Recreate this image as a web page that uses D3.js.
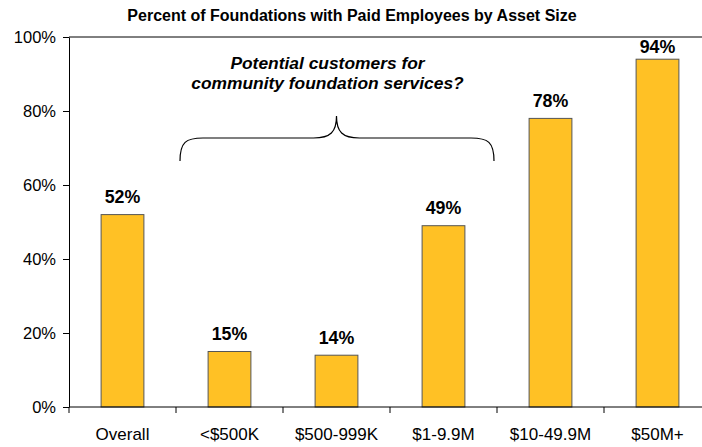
<!DOCTYPE html>
<html>
<head>
<meta charset="utf-8">
<script src="https://cdn.jsdelivr.net/npm/d3@7"></script>
<style>
  body { margin: 0; background: #fff; }
  svg { display: block; font-family: "Liberation Sans", Arial, sans-serif; }
</style>
</head>
<body>
<svg id="chart" width="702" height="447"></svg>
<script>
const categories = ["Overall", "<$500K", "$500-999K", "$1-9.9M", "$10-49.9M", "$50M+"];
const values = [52, 15, 14, 49, 78, 94];
const yTicks = [0, 20, 40, 60, 80, 100];
const titleText = "Percent of Foundations with Paid Employees by Asset Size";
const noteLines = ["Potential customers for", "community foundation services?"];

const svg = d3.select("#chart");
const margin = { left: 69, top: 37, bottom: 40 };
const plotW = 642, plotH = 370;

const x = d3.scaleBand().domain(categories).range([margin.left, margin.left + plotW]).paddingInner(0.6).paddingOuter(0.3);
const xEdges = d3.scaleLinear().domain([0, categories.length]).range([margin.left, margin.left + plotW]);
const y = d3.scaleLinear().domain([0, 100]).range([margin.top + plotH, margin.top]);

// title
svg.append("text")
  .attr("x", 352).attr("y", 21)
  .attr("text-anchor", "middle")
  .attr("font-size", 16).attr("font-weight", "bold")
  .text(titleText);

// top border of the plot area
svg.append("line")
  .attr("x1", margin.left).attr("x2", margin.left + plotW)
  .attr("y1", y(100)).attr("y2", y(100))
  .attr("stroke", "#000").attr("stroke-width", 1);

// bars
svg.selectAll("rect.bar").data(values).join("rect")
  .attr("class", "bar")
  .attr("x", (d, i) => x(categories[i]))
  .attr("width", x.bandwidth())
  .attr("y", d => y(d))
  .attr("height", d => y(0) - y(d))
  .attr("fill", "#FFC125")
  .attr("stroke", "#555")
  .attr("stroke-width", 1);

// value labels, kept inside the plot area near the top
svg.selectAll("text.val").data(values).join("text")
  .attr("class", "val")
  .attr("x", (d, i) => x(categories[i]) + x.bandwidth() / 2)
  .attr("y", d => Math.max(y(d) - 11.5, y(100) + 16))
  .attr("text-anchor", "middle")
  .attr("font-size", 17.8).attr("font-weight", "bold")
  .text(d => d + "%");

// y axis
const yAxis = svg.append("g")
  .attr("transform", `translate(${margin.left},0)`)
  .call(d3.axisLeft(y).tickValues(yTicks).tickFormat(d => d + "%").tickSize(6).tickSizeOuter(0));
yAxis.select(".domain").attr("stroke", "#000");
yAxis.selectAll("text").attr("font-size", 16.5).attr("font-family", "Liberation Sans, Arial, sans-serif").attr("fill", "#000").attr("dx", -4);

// x axis: ticks on category boundaries
const xAxis = svg.append("g").attr("transform", `translate(0,${y(0)})`);
xAxis.append("line")
  .attr("x1", margin.left).attr("x2", margin.left + plotW)
  .attr("stroke", "#000");
xAxis.selectAll("line.tick").data(d3.range(categories.length + 1)).join("line")
  .attr("class", "tick")
  .attr("x1", d => xEdges(d)).attr("x2", d => xEdges(d))
  .attr("y1", 0).attr("y2", 6)
  .attr("stroke", "#000");
xAxis.selectAll("text").data(categories).join("text")
  .attr("x", d => x(d) + x.bandwidth() / 2)
  .attr("y", 33)
  .attr("text-anchor", "middle")
  .attr("font-size", 17)
  .text(d => d);

// curly brace spanning the three middle groups
const bx0 = xEdges(1) + 4, bx1 = xEdges(4) - 3, bm = xEdges(2.5);

// annotation above the brace
svg.selectAll("text.note").data(noteLines).join("text")
  .attr("class", "note")
  .attr("x", bm - 9)
  .attr("y", (d, i) => 69 + i * 20)
  .attr("text-anchor", "middle")
  .attr("font-size", 17.4).attr("font-weight", "bold").attr("font-style", "italic")
  .text(d => d);

const yTip = 116, yMid = 138, yEnd = 161, r = 23;
const brace = d3.path();
brace.moveTo(bx0, yEnd);
brace.bezierCurveTo(bx0, yMid + 4, bx0 + 6, yMid, bx0 + r, yMid);
brace.lineTo(bm - r, yMid);
brace.bezierCurveTo(bm - 6, yMid, bm, yMid - 6, bm, yTip);
brace.bezierCurveTo(bm, yMid - 6, bm + 6, yMid, bm + r, yMid);
brace.lineTo(bx1 - r, yMid);
brace.bezierCurveTo(bx1 - 6, yMid, bx1, yMid + 4, bx1, yEnd);
svg.append("path").attr("d", brace.toString())
  .attr("fill", "none").attr("stroke", "#000").attr("stroke-width", 1.2);
</script>
</body>
</html>
